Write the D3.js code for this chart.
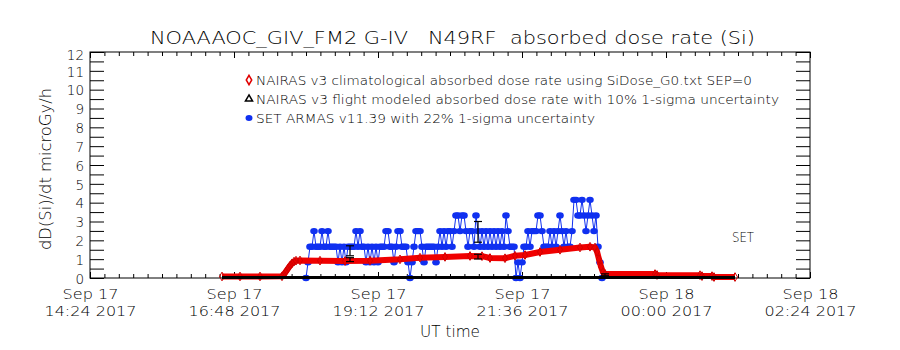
<!DOCTYPE html>
<html><head><meta charset="utf-8">
<script src="https://cdn.jsdelivr.net/npm/d3@7"></script>
<style>
body{margin:0;background:#fff}
svg{display:block}
text{font-family:"DejaVu Sans",sans-serif;font-weight:200;fill:#000}
</style>
</head><body>
<svg id="chart" width="900" height="350"></svg>
<script>
// ---------------- data ----------------
const titleText = "NOAAAOC_GIV_FM2 G-IV   N49RF  absorbed dose rate (Si)";
const yAxisTitle = "dD(Si)/dt microGy/h";
const xAxisTitle = "UT time";
const xDomain = ["2017-09-17T14:24", "2017-09-18T02:24"];
const xTickTimes = ["2017-09-17T14:24","2017-09-17T16:48","2017-09-17T19:12","2017-09-17T21:36","2017-09-18T00:00","2017-09-18T02:24"];
const yTickValues = [0,1,2,3,4,5,6,7,8,9,10,11,12];
const legendLabels = [
  "NAIRAS v3 climatological absorbed dose rate using SiDose_G0.txt SEP=0",
  "NAIRAS v3 flight modeled absorbed dose rate with 10% 1-sigma uncertainty",
  "SET ARMAS v11.39 with 22% 1-sigma uncertainty"
];
const annotation = "SET";

// NAIRAS climatological (red)
const redTimes = ["2017-09-17T16:36","2017-09-17T16:54","2017-09-17T17:14","2017-09-17T17:36","2017-09-17T17:38","2017-09-17T17:40","2017-09-17T17:42","2017-09-17T17:44","2017-09-17T17:46","2017-09-17T17:48","2017-09-17T17:50","2017-09-17T17:54","2017-09-17T18:14","2017-09-17T18:39","2017-09-17T19:04","2017-09-17T19:34","2017-09-17T19:54","2017-09-17T20:19","2017-09-17T20:44","2017-09-17T20:56","2017-09-17T21:04","2017-09-17T21:19","2017-09-17T21:29","2017-09-17T21:39","2017-09-17T21:54","2017-09-17T22:14","2017-09-17T22:34","2017-09-17T22:44","2017-09-17T22:49","2017-09-17T22:51","2017-09-17T22:53","2017-09-17T22:55","2017-09-17T22:57","2017-09-17T22:59","2017-09-17T23:49","2017-09-17T23:51","2017-09-18T00:34","2017-09-18T00:36","2017-09-18T00:46","2017-09-18T00:48","2017-09-18T01:09"];
const redValues = [0.08,0.08,0.08,0.09,0.2,0.35,0.5,0.65,0.78,0.87,0.92,0.93,0.92,0.9,0.92,0.99,1.08,1.12,1.17,1.16,1.06,1.05,1.18,1.22,1.38,1.5,1.62,1.66,1.62,1.4,1.0,0.6,0.3,0.22,0.21,0.16,0.15,0.1,0.1,0.05,0.05];

// NAIRAS flight modeled (black)
const blackTimes = ["2017-09-17T16:36","2017-09-17T18:00","2017-09-17T20:00","2017-09-17T22:00","2017-09-18T00:00","2017-09-18T01:09"];
const blackValues = [0,0,0,0,0,0];

// SET ARMAS (blue), one sample every 2 minutes starting at blueStart
const blueStart = "2017-09-17T18:00";
const blueStepMinutes = 2;
const blueValues = [
0,0.83,1.66,1.66,2.49,1.66,1.66,1.66,2.49,1.66,1.66,2.49,1.66,1.66,1.66,1.66,0.83,1.66,0.83,1.66,
0.83,1.66,1.66,1.66,1.66,2.49,1.66,2.49,1.66,1.66,0.83,1.66,0.83,1.66,0.83,1.66,0.83,1.66,1.66,1.66,
2.49,2.49,1.66,1.66,0.83,1.66,2.49,2.49,1.66,1.66,1.66,0.83,0,0.83,1.66,2.49,2.49,2.49,1.66,0.83,
1.66,1.66,1.66,1.66,1.66,0.83,1.66,2.49,1.66,2.49,1.66,2.49,2.49,1.66,2.49,3.32,3.32,2.49,3.32,3.32,
2.49,1.66,2.49,2.49,1.66,3.32,2.49,1.66,2.49,1.66,2.49,1.66,2.49,1.66,2.49,1.66,2.49,1.66,2.49,1.66,
3.32,2.49,1.66,1.66,1.66,0,0.83,0,0.83,1.66,1.66,2.49,1.66,2.49,2.49,2.49,3.32,3.32,2.49,1.66,
1.66,1.66,2.49,1.66,2.49,1.66,2.49,3.32,2.49,1.66,2.49,1.66,1.66,2.49,4.15,4.15,3.32,3.32,4.15,3.32,
2.49,3.32,4.15,3.32,2.49,3.32,1.66,0.83,0];

// uncertainty bars (black)
const errTimes = ["2017-09-17T18:44","2017-09-17T18:44","2017-09-17T20:52","2017-09-17T20:52","2017-09-17T22:59"];
const errLow  = [1.18,0.87,1.9,1.01,0.12];
const errHigh = [1.71,1.08,3.0,1.26,0.22];

// ---------------- drawing ----------------
const parse = d3.utcParse("%Y-%m-%dT%H:%M");
const svg = d3.select("#chart");
const L = 90, R = 810, T = 52, B = 278;

const x = d3.scaleUtc().domain(xDomain.map(parse)).range([L, R]);
const y = d3.scaleLinear().domain([0, 12]).range([B, T]);

svg.append("rect").attr("width",900).attr("height",350).attr("fill","#fff");

// title
svg.append("text").attr("x",150).attr("y",44).attr("font-size",18)
  .attr("textLength",605).attr("lengthAdjust","spacingAndGlyphs")
  .style("white-space","pre").text(titleText);

// minor x ticks (10 intervals per labelled interval)
const majors = xTickTimes.map(parse);
const minors = [];
for (let i = 0; i < majors.length - 1; i++) {
  const a = +majors[i], b = +majors[i+1];
  for (let k = 1; k < 10; k++) minors.push(new Date(a + (b - a) * k / 10));
}
const halfTicks = d3.range(0.5, 12, 1);

function clean(g){ g.select(".domain").remove(); g.selectAll("line").attr("stroke","#000"); }

svg.append("g").attr("transform",`translate(0,${B})`)
  .call(d3.axisBottom(x).tickValues(minors).tickSize(-4).tickFormat("")).call(clean);
svg.append("g").attr("transform",`translate(0,${T})`)
  .call(d3.axisTop(x).tickValues(minors).tickSize(-4).tickFormat("")).call(clean);
svg.append("g").attr("transform",`translate(0,${T})`)
  .call(d3.axisTop(x).tickValues(majors).tickSize(-6).tickFormat("")).call(clean);

const fmt1 = d3.utcFormat("%b %d"), fmt2 = d3.utcFormat("%H:%M %Y");
const xb = svg.append("g").attr("transform",`translate(0,${B})`)
  .call(d3.axisBottom(x).tickValues(majors).tickSize(-6).tickPadding(0).tickFormat("")).call(clean);
xb.selectAll(".tick").each(function(d){
  const g = d3.select(this);
  g.append("text").attr("y",21).attr("text-anchor","middle").attr("font-size",14.5)
    .attr("textLength",56).attr("lengthAdjust","spacingAndGlyphs").text(fmt1(d));
  g.append("text").attr("y",38).attr("text-anchor","middle").attr("font-size",14.5)
    .attr("textLength",92).attr("lengthAdjust","spacingAndGlyphs").text(fmt2(d));
});

// y axes
const yl = svg.append("g").attr("transform",`translate(${L},0)`)
  .call(d3.axisLeft(y).tickValues(yTickValues).tickSize(-14).tickFormat("")).call(clean);
svg.append("g").attr("transform",`translate(${L},0)`)
  .call(d3.axisLeft(y).tickValues(halfTicks).tickSize(-14).tickFormat("")).call(clean);
svg.append("g").attr("transform",`translate(${R},0)`)
  .call(d3.axisRight(y).tickValues(yTickValues).tickSize(-14).tickFormat("")).call(clean);
svg.append("g").attr("transform",`translate(${R},0)`)
  .call(d3.axisRight(y).tickValues(halfTicks).tickSize(-14).tickFormat("")).call(clean);
yl.selectAll(".tick").append("text")
  .attr("x",-6).attr("y", d => d === 12 ? 7.5 : 5.2).attr("text-anchor","end").attr("font-size",13.5)
  .text(d => d);

// frame
svg.append("rect").attr("x",L).attr("y",T).attr("width",R-L).attr("height",B-T)
  .attr("fill","none").attr("stroke","#000").attr("stroke-width",1);

// axis titles
svg.append("text").attr("x",450).attr("y",337).attr("text-anchor","middle").attr("font-size",16)
  .attr("textLength",60).attr("lengthAdjust","spacingAndGlyphs").text(xAxisTitle);
svg.append("text").attr("transform","translate(51,169) rotate(-90)").attr("text-anchor","middle")
  .attr("font-size",16).attr("textLength",162).attr("lengthAdjust","spacingAndGlyphs").text(yAxisTitle);

// blue series
const blueColor = "#1030f0";
const t0 = parse(blueStart);
const blue = blueValues.map((v,i) => ({t: new Date(+t0 + i*blueStepMinutes*60000), v}));
svg.append("path").datum(blue).attr("fill","none").attr("stroke",blueColor).attr("stroke-width",1)
  .attr("d", d3.line().x(d => x(d.t)).y(d => y(d.v)));
svg.append("g").selectAll("ellipse").data(blue).join("ellipse")
  .attr("cx", d => x(d.t)).attr("cy", d => y(d.v)).attr("rx",3.8).attr("ry",3.2).attr("fill",blueColor);

// red series
const red = redTimes.map((t,i) => ({t: parse(t), v: redValues[i]}));
svg.append("path").datum(red).attr("fill","none").attr("stroke","#f00000").attr("stroke-width",6)
  .attr("stroke-linejoin","round")
  .attr("d", d3.line().x(d => x(d.t)).y(d => y(d.v)));
const diamond = d3.symbol().type(d3.symbolDiamond).size(22);
svg.append("g").selectAll("path").data(red).join("path")
  .attr("transform", d => `translate(${x(d.t)},${y(d.v)})`).attr("d", diamond)
  .attr("fill","none").attr("stroke","#d00000").attr("stroke-width",1);

// black series
const black = blackTimes.map((t,i) => ({t: parse(t), v: blackValues[i]}));
svg.append("path").datum(black).attr("fill","none").attr("stroke","#000").attr("stroke-width",3)
  .attr("d", d3.line().x(d => x(d.t)).y(d => y(d.v) - 0.5));

// error bars
const errs = errTimes.map((t,i) => ({t: parse(t), lo: errLow[i], hi: errHigh[i]}));
const eg = svg.append("g").attr("stroke","#000").attr("stroke-width",1.2);
errs.forEach(e => {
  const cx = x(e.t);
  eg.append("line").attr("x1",cx).attr("x2",cx).attr("y1",y(e.lo)).attr("y2",y(e.hi));
  eg.append("line").attr("x1",cx-4).attr("x2",cx+4).attr("y1",y(e.lo)).attr("y2",y(e.lo));
  eg.append("line").attr("x1",cx-4).attr("x2",cx+4).attr("y1",y(e.hi)).attr("y2",y(e.hi));
});

// legend
const lg = svg.append("g");
const rowY = [80, 99, 118];
const rowLen = [496, 523, 339];
legendLabels.forEach((lab,i) => {
  lg.append("text").attr("x",256).attr("y",rowY[i]+4.5).attr("font-size",13)
    .attr("textLength",rowLen[i]).attr("lengthAdjust","spacingAndGlyphs").text(lab);
});
lg.append("path").attr("transform",`translate(249,${rowY[0]})`).attr("d",d3.symbol().type(d3.symbolDiamond).size(26))
  .attr("fill","none").attr("stroke","#e00000").attr("stroke-width",1.5);
lg.append("path").attr("transform",`translate(249,${rowY[1]})`).attr("d",d3.symbol().type(d3.symbolTriangle).size(22))
  .attr("fill","none").attr("stroke","#000").attr("stroke-width",1.5);
lg.append("ellipse").attr("cx",249).attr("cy",rowY[2]).attr("rx",3.5).attr("ry",3).attr("fill",blueColor);

// annotation
svg.append("text").attr("x",732).attr("y",242).attr("font-size",14).attr("textLength",22)
  .attr("lengthAdjust","spacingAndGlyphs").text(annotation);
</script>
</body></html>
